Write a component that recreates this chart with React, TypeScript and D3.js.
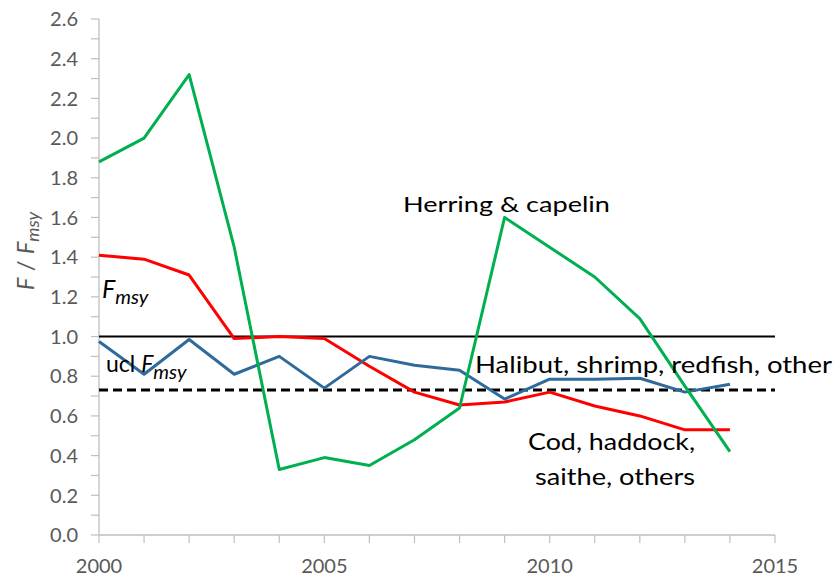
import React from "react";
import * as d3 from "d3";

const years = [2000, 2001, 2002, 2003, 2004, 2005, 2006, 2007, 2008, 2009, 2010, 2011, 2012, 2013, 2014];
const herringCapelin = [1.88, 2.0, 2.32, 1.45, 0.33, 0.39, 0.35, 0.48, 0.64, 1.6, 1.45, 1.3, 1.09, 0.75, 0.42];
const codHaddock = [1.41, 1.39, 1.31, 0.99, 1.0, 0.99, 0.85, 0.72, 0.655, 0.67, 0.72, 0.65, 0.6, 0.53, 0.53];
const halibutShrimp = [0.975, 0.81, 0.985, 0.81, 0.9, 0.74, 0.9, 0.855, 0.83, 0.685, 0.785, 0.785, 0.79, 0.72, 0.76];
const yTicks = [0, 0.2, 0.4, 0.6, 0.8, 1.0, 1.2, 1.4, 1.6, 1.8, 2.0, 2.2, 2.4, 2.6];
const xTicks = [2000, 2005, 2010, 2015];
const fmsy = 1.0;
const uclFmsy = 0.73;

const W = 835;
const H = 581;
const left = 99;
const right = 775;
const top = 19;
const bottom = 535;

const FONT = "Lato, 'Open Sans', sans-serif";

export default function App() {
  const x = d3.scaleLinear().domain([2000, 2015]).range([left, right]);
  const y = d3.scaleLinear().domain([0, 2.6]).range([bottom, top]);
  const line = d3
    .line<number>()
    .x((_, i) => x(years[i]))
    .y((d) => y(d));

  const minorY = d3.range(0, 27).map((i) => i / 10);
  const minorX = d3.range(2000, 2016);

  const series = [
    { data: codHaddock, color: "#ff0000" },
    { data: halibutShrimp, color: "#2f6a9c" },
    { data: herringCapelin, color: "#00b050" },
  ];

  return (
    <svg
      width={W}
      height={H}
      style={{ position: "absolute", left: 0, top: 0, background: "#fff" }}
      fontFamily={FONT}
    >
      <rect width={W} height={H} fill="#fff" />
      {/* axes */}
      <line x1={left} x2={left} y1={top} y2={bottom} stroke="#bfbfbf" strokeWidth={1.3} />
      <line x1={left} x2={right} y1={bottom} y2={bottom} stroke="#bfbfbf" strokeWidth={1.3} />
      {minorY.map((v) => (
        <line key={"yt" + v} x1={left - 8} x2={left} y1={y(v)} y2={y(v)} stroke="#bfbfbf" strokeWidth={1.2} />
      ))}
      {minorX.map((v) => (
        <line key={"xt" + v} x1={x(v)} x2={x(v)} y1={bottom} y2={bottom + 8} stroke="#bfbfbf" strokeWidth={1.2} />
      ))}
      {yTicks.map((v) => (
        <text
          key={"yl" + v}
          x={78}
          y={y(v)}
          dy="0.36em"
          textAnchor="end"
          fontSize={20}
          fill="#595959"
        >
          {v.toFixed(1)}
        </text>
      ))}
      {xTicks.map((v) => (
        <text key={"xl" + v} x={x(v)} y={573} textAnchor="middle" fontSize={20} fill="#595959">
          {v}
        </text>
      ))}
      {/* y axis title */}
      <text
        transform={`translate(34, 251) rotate(-90)`}
        textAnchor="middle"
        fontSize={24}
        fill="#595959"
      >
        <tspan fontStyle="italic">F</tspan>
        <tspan> / </tspan>
        <tspan fontStyle="italic">F</tspan>
        <tspan fontStyle="italic" fontSize={18} dy={5}>
          msy
        </tspan>
      </text>

      {/* reference lines */}
      <line x1={left} x2={right} y1={y(fmsy)} y2={y(fmsy)} stroke="#000" strokeWidth={2} />
      <line
        x1={left}
        x2={right}
        y1={y(uclFmsy)}
        y2={y(uclFmsy)}
        stroke="#000"
        strokeWidth={3}
        strokeDasharray="9,5"
      />

      {/* series */}
      {series.map((s, i) => (
        <path
          key={i}
          d={line(s.data) || ""}
          fill="none"
          stroke={s.color}
          strokeWidth={3}
          strokeLinejoin="round"
        />
      ))}

      {/* annotations */}
      <text x={102} y={298} fontSize={25} fill="#000">
        <tspan fontStyle="italic">F</tspan>
        <tspan fontStyle="italic" fontSize={20} dy={6}>
          msy
        </tspan>
      </text>
      <text x={106} y={372} fontSize={23} fill="#000">
        <tspan>ucl </tspan>
        <tspan fontStyle="italic">F</tspan>
        <tspan fontStyle="italic" fontSize={20} dy={7}>
          msy
        </tspan>
      </text>
      <text x={403} y={212} fontSize={22} fill="#000" textLength={207} lengthAdjust="spacingAndGlyphs">
        Herring &amp; capelin
      </text>
      <text x={475} y={373} fontSize={23} fill="#000" textLength={357} lengthAdjust="spacingAndGlyphs">
        Halibut, shrimp, redfish, other
      </text>
      <text x={528} y={450} fontSize={23} fill="#000" textLength={167} lengthAdjust="spacingAndGlyphs">
        Cod, haddock,
      </text>
      <text x={535} y={485} fontSize={23} fill="#000" textLength={160} lengthAdjust="spacingAndGlyphs">
        saithe, others
      </text>
    </svg>
  );
}
